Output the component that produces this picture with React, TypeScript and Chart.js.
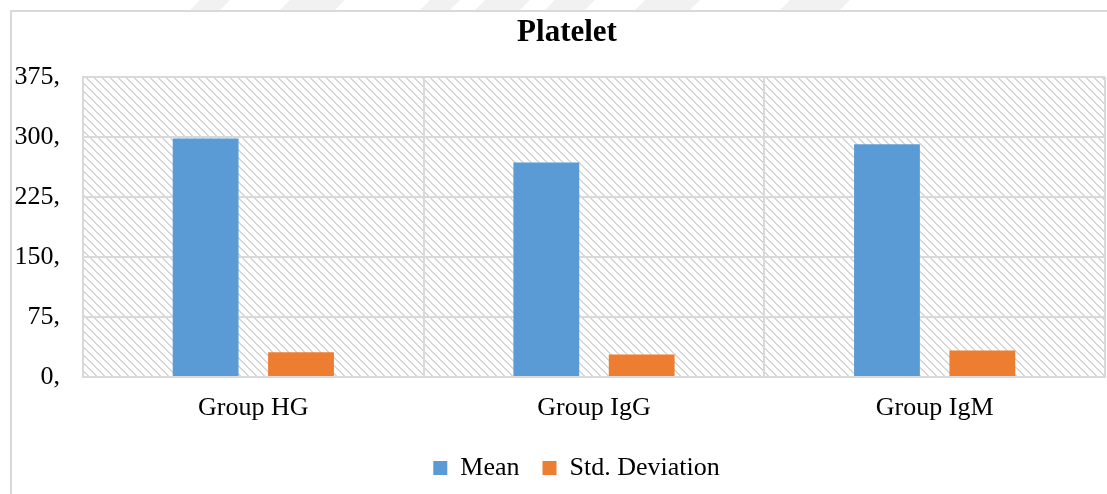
import React, { useEffect, useRef } from "react";
import { Chart, registerables } from "chart.js";

Chart.register(...registerables);

const chartTitle = "Platelet";
const categories = ["Group HG", "Group IgG", "Group IgM"];
const seriesNames = ["Mean", "Std. Deviation"];
const meanValues = [298, 268, 291];
const stdValues = [31, 28, 33];
const yMin = 0;
const yMax = 375;
const yStep = 75;

const W = 1107;
const H = 494;
const FONT = "'Liberation Serif', 'Times New Roman', serif";
const GRID = "#d9d9d9";

function makeHatch(ctx: CanvasRenderingContext2D): CanvasPattern | string {
  const t = document.createElement("canvas");
  const n = 8;
  t.width = n;
  t.height = n;
  const c = t.getContext("2d");
  if (!c) return "#fff";
  const img = c.createImageData(n, n);
  for (let y = 0; y < n; y++) {
    for (let x = 0; x < n; x++) {
      const d = (((x - y) % n) + n) % n;
      const i = (y * n + x) * 4;
      let v = 255;
      if (d === 0 || d === 1) v = 0xd6;
      img.data[i] = v;
      img.data[i + 1] = v;
      img.data[i + 2] = v;
      img.data[i + 3] = 255;
    }
  }
  c.putImageData(img, 0, 0);
  return ctx.createPattern(t, "repeat") || "#fff";
}

const framePlugin = {
  id: "frame",
  beforeDraw(chart: any) {
    const ctx: CanvasRenderingContext2D = chart.ctx;
    const { left, top, right, bottom } = chart.chartArea;
    ctx.save();
    ctx.fillStyle = "#ffffff";
    ctx.fillRect(0, 0, chart.width, chart.height);
    // faint watermark bands above the frame
    ctx.fillStyle = "#f1f1f1";
    const bands = [[190, 30], [280, 55], [420, 30], [475, 45], [545, 40], [635, 55], [780, 60]];
    for (const [bx, bw] of bands) {
      ctx.beginPath();
      ctx.moveTo(bx, 10);
      ctx.lineTo(bx + bw, 10);
      ctx.lineTo(bx + bw + 10, 0);
      ctx.lineTo(bx + 10, 0);
      ctx.closePath();
      ctx.fill();
    }
    // outer frame
    ctx.strokeStyle = GRID;
    ctx.lineWidth = 2;
    ctx.beginPath();
    ctx.moveTo(11, chart.height);
    ctx.lineTo(11, 11);
    ctx.lineTo(chart.width, 11);
    ctx.stroke();
    // hatched plot area
    ctx.fillStyle = makeHatch(ctx);
    ctx.fillRect(left, top, right - left, bottom - top);
    ctx.restore();
    // center title and legend on the (wider) chart frame
    if (chart.titleBlock) {
      chart.titleBlock.left = 14.5;
      chart.titleBlock.right = chart.width - 2 + 14.5;
    }
    if (chart.legend) {
      chart.legend.left = 24;
      chart.legend.right = chart.width - 2 + 24;
    }
  },
};

export default function App() {
  const ref = useRef<HTMLCanvasElement | null>(null);

  useEffect(() => {
    if (!ref.current) return;
    const chart = new Chart(ref.current, {
      type: "bar",
      data: {
        labels: categories,
        datasets: [
          {
            label: seriesNames[0],
            data: meanValues,
            backgroundColor: "#5b9bd5",
            borderWidth: 0,
          },
          {
            label: seriesNames[1],
            data: stdValues,
            backgroundColor: "#ed7d31",
            borderWidth: 0,
          },
        ],
      },
      options: {
        animation: false,
        responsive: false,
        devicePixelRatio: 1,
        layout: { padding: { left: 0, right: 2, top: 0, bottom: 3 } },
        datasets: {
          bar: { barPercentage: 0.69, categoryPercentage: 0.56 },
        },
        plugins: {
          title: {
            display: true,
            text: chartTitle,
            color: "#000",
            font: { family: FONT, size: 31, weight: "bold", lineHeight: 1.2 },
            padding: { top: 14.4, bottom: 25.4 },
          },
          legend: {
            display: true,
            position: "bottom",
            labels: {
              color: "#000",
              font: { family: FONT, size: 26 },
              boxWidth: 14,
              boxHeight: 14,
              padding: 23,
            },
          },
          tooltip: { enabled: false },
        },
        scales: {
          x: {
            grid: { color: GRID, lineWidth: 2, drawTicks: false, offset: true },
            border: { color: GRID, width: 2 },
            ticks: {
              color: "#000",
              font: { family: FONT, size: 26, lineHeight: 1.2 },
              padding: 16,
              maxRotation: 0,
            },
            afterFit: (s: any) => {
              s.height = 55;
            },
          },
          y: {
            min: yMin,
            max: yMax,
            grid: { color: GRID, lineWidth: 2, drawTicks: false },
            border: { color: GRID, width: 2 },
            ticks: {
              stepSize: yStep,
              color: "#000",
              font: { family: FONT, size: 26 },
              padding: 23,
              callback: (v: any) => `${v},`,
            },
            afterFit: (s: any) => {
              s.width = 83;
            },
          },
        },
      },
      plugins: [framePlugin],
    } as any);
    return () => chart.destroy();
  }, []);

  return (
    <div style={{ position: "absolute", left: 0, top: 0, width: W, height: H }}>
      <canvas ref={ref} width={W} height={H} style={{ width: W, height: H, display: "block" }} />
    </div>
  );
}
